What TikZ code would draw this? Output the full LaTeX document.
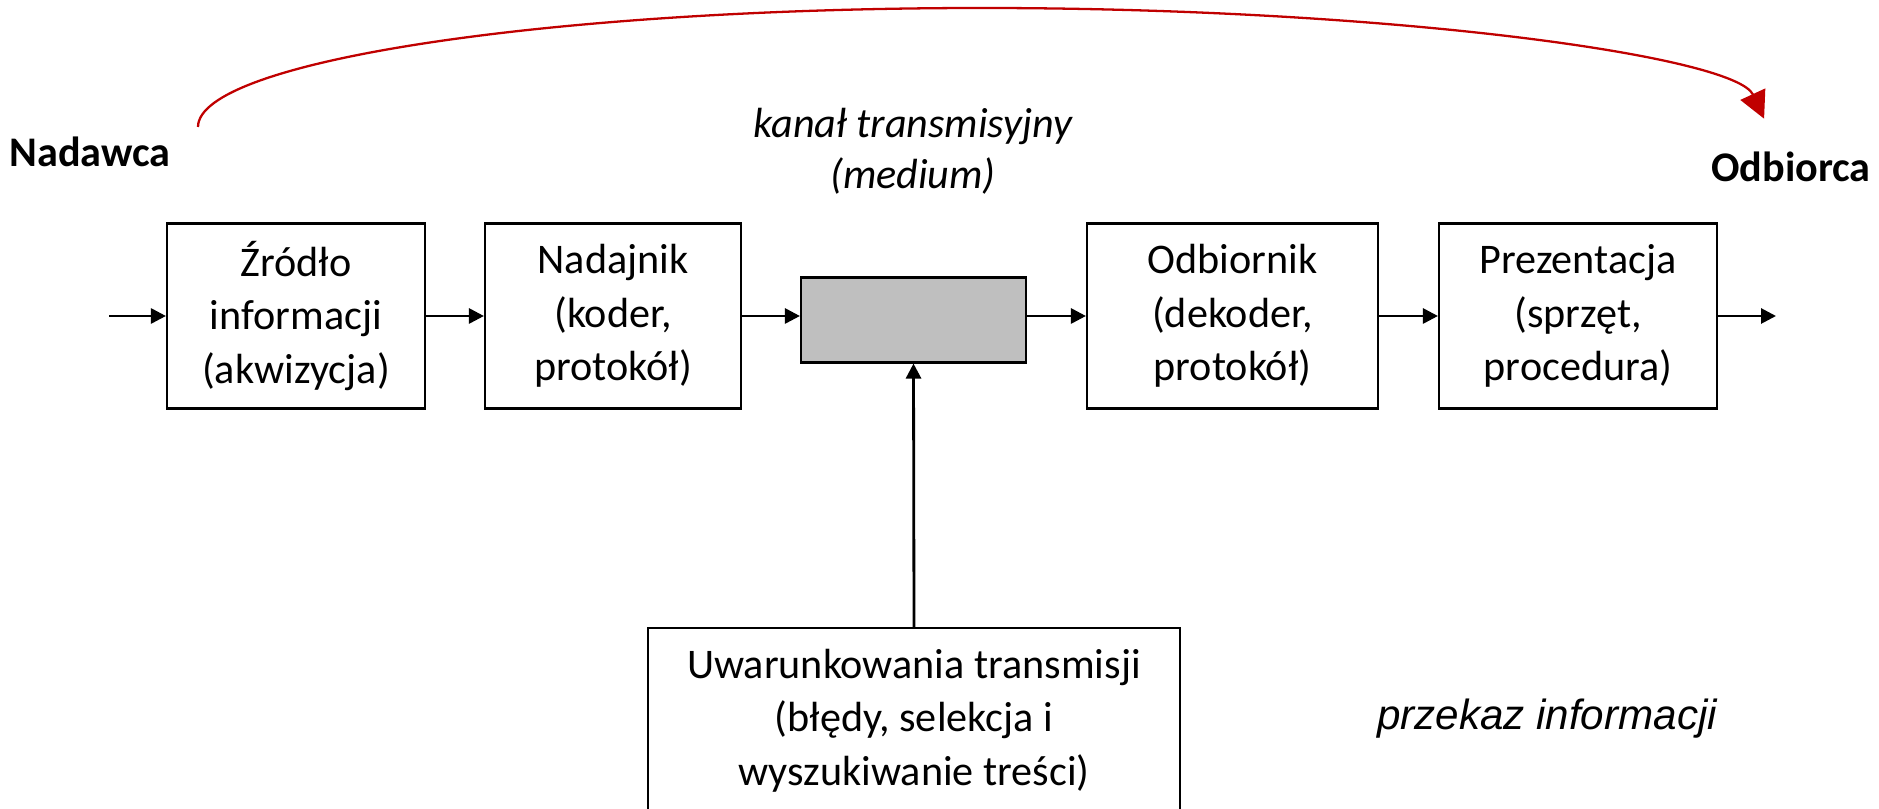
\documentclass[tikz,border=0pt]{standalone}
\usepackage{fontspec}
\setmainfont{Carlito}
\newfontfamily\arialfont{Liberation Sans}
\usepackage{tikz}
\usepackage{xcolor}
\usetikzlibrary{arrows.meta}
\definecolor{czerwony}{RGB}{192,0,0}
\definecolor{szary}{RGB}{191,191,191}

\begin{document}
\begin{tikzpicture}[
    blok/.style={draw, line width=0.6pt, align=center, minimum height=1.85cm, inner sep=0pt, font=\fontsize{12}{15.2}\selectfont},
    strzalka/.style={line width=0.8pt, -{Triangle[length=1.5mm, width=1.5mm]}},
    opis/.style={align=center, font=\fontsize{12}{14.6}\selectfont\itshape},
    osoba/.style={font=\fontsize{12}{15}\selectfont\bfseries}
]
    \useasboundingbox (0,0) rectangle (18.79,8.08);
    \clip (0,0) rectangle (18.79,8.08);
    % Nadawca i odbiorca
    \node[osoba] (nadawca) at (0.90,6.56) {Nadawca};
    \node[osoba] (odbiorca) at (17.91,6.41) {Odbiorca};
    \coordinate (lukstart) at (1.98,6.81);
    \draw[czerwony, line width=0.65pt, -{Triangle[length=2.7mm, width=2.7mm]}]
        (lukstart) arc[start angle=180, end angle=4, x radius=7.84cm, y radius=1.19cm];
    \node[opis] (medium) at (9.13,6.57) {kanał transmisyjny\\(medium)};
    % Tor przekazu
    \coordinate (wejscie) at (1.09,4.92);
    \node[blok, minimum width=2.58cm] (zrodlo) at (2.96,4.92) {Źródło\\informacji\\(akwizycja)};
    \node[blok, minimum width=2.56cm] (nadajnik) at (6.13,4.92) {Nadajnik\\(koder,\\protokół)};
    \node[draw, line width=0.6pt, fill=szary, minimum width=2.25cm, minimum height=0.85cm] (kanal) at (9.135,4.88) {};
    \node[blok, minimum width=2.91cm] (odbiornik) at (12.325,4.92) {Odbiornik\\(dekoder,\\protokół)};
    \node[blok, minimum width=2.78cm] (prezentacja) at (15.78,4.92) {Prezentacja\\(sprzęt,\\procedura)};
    \coordinate (wyjscie) at (17.76,4.92);
    \draw[strzalka] (wejscie) -- (zrodlo);
    \draw[strzalka] (zrodlo) -- (nadajnik);
    \draw[strzalka] (nadajnik.east) -- (nadajnik.east -| kanal.west);
    \draw[strzalka] (kanal.east |- odbiornik.west) -- (odbiornik.west);
    \draw[strzalka] (odbiornik) -- (prezentacja);
    \draw[strzalka] (prezentacja) -- (wyjscie);
    % Uwarunkowania
    \node[blok, minimum width=5.32cm, anchor=north] (warunki) at (9.14,1.81) {Uwarunkowania transmisji\\(błędy, selekcja i\\wyszukiwanie treści)};
    \draw[strzalka] (warunki.north) -- (kanal.south);
    \node[font=\fontsize{12}{15}\selectfont\arialfont\itshape] (przekaz) at (15.47,0.89) {przekaz informacji};
\end{tikzpicture}
\end{document}
